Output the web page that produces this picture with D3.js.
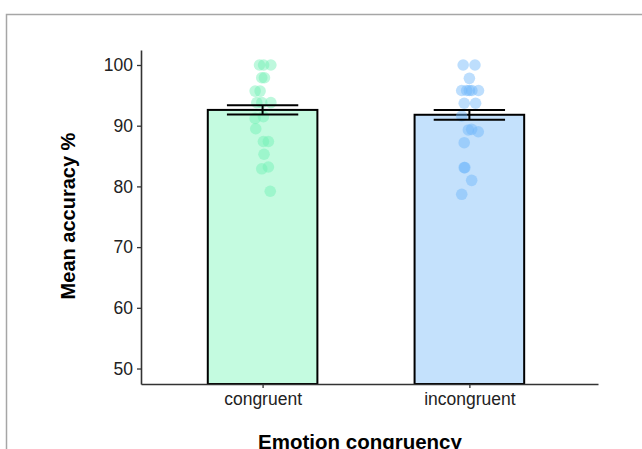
<!DOCTYPE html>
<html>
<head>
<meta charset="utf-8">
<script src="https://cdn.jsdelivr.net/npm/d3@7"></script>
<style>
  body { margin: 0; background: #fff; }
  svg { display: block; font-family: "Liberation Sans", Arial, sans-serif; }
</style>
</head>
<body>
<div id="chart"></div>
<script>
// data
const categories = ["congruent", "incongruent"];
const means = [92.6, 91.8];
const errors = [0.75, 0.8];
const barFills = ["#c4fbe0", "#c4e1fc"];
const pointFills = ["#6ef0b4", "#6cb6fb"];
const yTicks = [50, 60, 70, 80, 90, 100];

// per-subject accuracy, with horizontal jitter (in category units)
const congruentScores = [100, 100, 100, 97.9, 97.9, 95.7, 95.7, 93.8, 93.8, 93.8,
  91.2, 91.5, 89.5, 87.4, 87.4, 85.3, 82.9, 83.2, 79.2];
const congruentJitter = [-0.015, 0.005, 0.04, -0.004, 0.009, -0.036, -0.012, -0.028, -0.004, 0.04,
  -0.036, 0.004, -0.033, 0.004, 0.028, 0.007, -0.004, 0.028, 0.037];
const incongruentScores = [100, 100, 97.8, 95.8, 95.8, 95.8, 95.8, 95.8, 93.7, 93.7,
  91.6, 89.3, 89.4, 89.0, 87.2, 83.1, 83.1, 81.0, 78.7];
const incongruentJitter = [-0.03, 0.027, 0.0, -0.037, -0.013, 0.0, 0.012, 0.044, -0.025, 0.03,
  -0.037, -0.005, 0.011, 0.043, -0.025, -0.025, -0.022, 0.011, -0.037];

const width = 642, height = 449;
const svg = d3.select("#chart").append("svg")
  .attr("width", width)
  .attr("height", height);

// frame around the figure
svg.append("rect")
  .attr("x", 6.5).attr("y", 14.5)
  .attr("width", width).attr("height", height)
  .attr("fill", "none")
  .attr("stroke", "#a6a6a6")
  .attr("stroke-width", 1.5);

const x = d3.scaleLinear().domain([0.412, 2.622]).range([141, 598]);
const y = d3.scaleLinear().domain([47.45, 102.47]).range([384, 50]);
const barW = 0.53, errW = 0.345;

// bars
svg.append("g")
  .selectAll("rect")
  .data(categories)
  .enter().append("rect")
  .attr("x", (d, i) => x(i + 1 - barW / 2))
  .attr("width", x(1 + barW) - x(1))
  .attr("y", (d, i) => y(means[i]))
  .attr("height", (d, i) => y.range()[0] - y(means[i]))
  .attr("fill", (d, i) => barFills[i])
  .attr("stroke", "#000")
  .attr("stroke-width", 2);

// points
const groups = [
  { scores: congruentScores, jitter: congruentJitter },
  { scores: incongruentScores, jitter: incongruentJitter }
];
groups.forEach((g, i) => {
  svg.append("g")
    .selectAll("circle")
    .data(g.scores)
    .enter().append("circle")
    .attr("cx", (d, j) => x(i + 1 + g.jitter[j]))
    .attr("cy", d => y(d))
    .attr("r", 5.8)
    .attr("fill", pointFills[i])
    .attr("fill-opacity", 0.45);
});

// error bars
const eb = svg.append("g").attr("stroke", "#000").attr("stroke-width", 2);
categories.forEach((c, i) => {
  const lo = means[i] - errors[i], hi = means[i] + errors[i];
  eb.append("line").attr("x1", x(i + 1)).attr("x2", x(i + 1)).attr("y1", y(lo)).attr("y2", y(hi));
  eb.append("line").attr("x1", x(i + 1 - errW / 2)).attr("x2", x(i + 1 + errW / 2)).attr("y1", y(lo)).attr("y2", y(lo));
  eb.append("line").attr("x1", x(i + 1 - errW / 2)).attr("x2", x(i + 1 + errW / 2)).attr("y1", y(hi)).attr("y2", y(hi));
});

// axes
const yAxis = svg.append("g")
  .attr("transform", "translate(141,0)")
  .call(d3.axisLeft(y).tickValues(yTicks).tickSize(4).tickPadding(4).tickSizeOuter(0));
const xAxis = svg.append("g")
  .attr("transform", "translate(0,384)")
  .call(d3.axisBottom(x).tickValues([1, 2]).tickFormat((d, i) => categories[i])
    .tickSize(4).tickPadding(5).tickSizeOuter(0));
[yAxis, xAxis].forEach(a => {
  a.select(".domain").attr("stroke", "#333").attr("stroke-width", 1.6);
  a.selectAll(".tick line").attr("stroke", "#333").attr("stroke-width", 1.3);
  a.selectAll(".tick text").attr("fill", "#222").style("font-size", "17.5px")
    .style("font-family", "'Liberation Sans', Arial, sans-serif");
});

// titles
svg.append("text")
  .attr("transform", "translate(75,216) rotate(-90)")
  .attr("text-anchor", "middle")
  .style("font-size", "20px")
  .style("font-weight", "bold")
  .text("Mean accuracy %");
svg.append("text")
  .attr("x", 360).attr("y", 449)
  .attr("text-anchor", "middle")
  .style("font-size", "20.5px")
  .style("font-weight", "bold")
  .text("Emotion congruency");
</script>
</body>
</html>
